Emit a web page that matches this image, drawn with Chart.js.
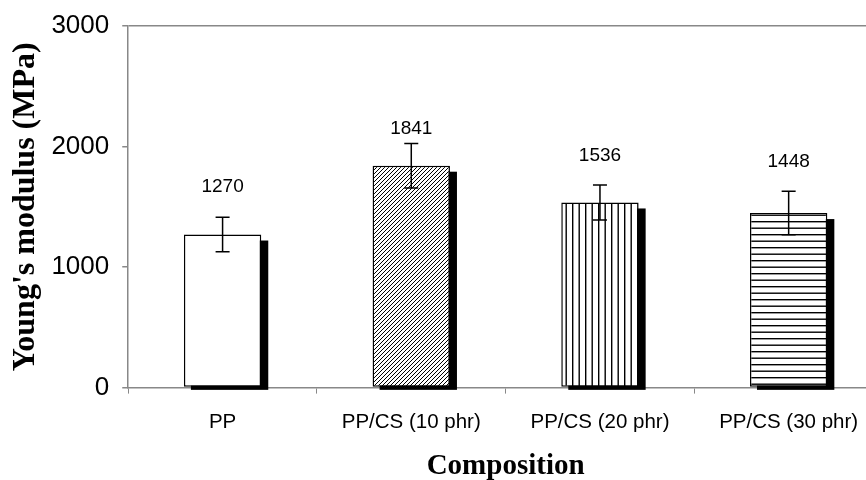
<!DOCTYPE html>
<html>
<head>
<meta charset="utf-8">
<script src="https://cdn.jsdelivr.net/npm/chart.js@4.4.1/dist/chart.umd.min.js"></script>
<style>
html, body { margin: 0; padding: 0; background: #fff; overflow: hidden; }
#wrap { width: 900px; height: 480px; }
</style>
</head>
<body>
<div id="wrap"><canvas id="chart" width="900" height="480"></canvas></div>
<script>
const categories = ['PP', 'PP/CS (10 phr)', 'PP/CS (20 phr)', 'PP/CS (30 phr)'];
const modulus = [1270, 1841, 1536, 1448];
const modulusErr = [143, 185, 145, 180];
const labelY = [1670, 2150, 1920, 1870];
const yTicks = [0, 1000, 2000, 3000];
const fills = ['plain', 'diag', 'vert', 'horiz'];

function makePattern(kind) {
    const c = document.createElement('canvas');
    const p = c.getContext('2d');
    if (kind === 'plain') return '#ffffff';
    if (kind === 'diag') {
        c.width = 4; c.height = 4;
        p.fillStyle = '#fff'; p.fillRect(0, 0, 4, 4);
        p.strokeStyle = '#000'; p.lineWidth = 1;
        p.beginPath();
        p.moveTo(-1, 5); p.lineTo(5, -1);
        p.moveTo(-3, 3); p.lineTo(3, -3);
        p.moveTo(1, 7); p.lineTo(7, 1);
        p.stroke();
    } else if (kind === 'vert') {
        c.width = 13; c.height = 4;
        p.fillStyle = '#fff'; p.fillRect(0, 0, 13, 4);
        p.fillStyle = '#000';
        p.fillRect(0, 0, 1.4, 4);
        p.fillRect(6.5, 0, 1.4, 4);
    } else {
        c.width = 4; c.height = 13;
        p.fillStyle = '#fff'; p.fillRect(0, 0, 4, 13);
        p.fillStyle = '#000';
        p.fillRect(0, 0, 4, 1.4);
        p.fillRect(0, 6.5, 4, 1.4);
    }
    return p.createPattern(c, 'repeat');
}

// sombra negra desplazada detras de cada barra
const shadowPlugin = {
    id: 'shadow',
    beforeDatasetsDraw(chart) {
        const ctx = chart.ctx;
        ctx.save();
        ctx.fillStyle = '#000';
        chart.getDatasetMeta(0).data.forEach(bar => {
            const { x, y, base, width } = bar.getProps(['x', 'y', 'base', 'width'], true);
            ctx.fillRect(x - width / 2 + 7, y + 6, width, base - y - 3);
        });
        ctx.restore();
    }
};

// barras de error y etiquetas de valor
const errorPlugin = {
    id: 'errors',
    afterDatasetsDraw(chart) {
        const ctx = chart.ctx;
        const ys = chart.scales.y;
        ctx.save();
        ctx.strokeStyle = '#000';
        ctx.lineWidth = 1.5;
        chart.getDatasetMeta(0).data.forEach((bar, i) => {
            const x = bar.x;
            const top = ys.getPixelForValue(modulus[i] + modulusErr[i]);
            const bot = ys.getPixelForValue(modulus[i] - modulusErr[i]);
            ctx.beginPath();
            ctx.moveTo(x, top); ctx.lineTo(x, bot);
            ctx.moveTo(x - 7, top); ctx.lineTo(x + 7, top);
            ctx.moveTo(x - 7, bot); ctx.lineTo(x + 7, bot);
            ctx.stroke();
            ctx.fillStyle = '#000';
            ctx.font = '19px "Liberation Sans"';
            ctx.textAlign = 'center';
            ctx.textBaseline = 'middle';
            ctx.fillText(String(modulus[i]), x, ys.getPixelForValue(labelY[i]));
        });
        ctx.restore();
    }
};

new Chart(document.getElementById('chart').getContext('2d'), {
    type: 'bar',
    data: {
        labels: categories,
        datasets: [{
            data: modulus,
            backgroundColor: fills.map(makePattern),
            borderColor: '#000',
            borderWidth: 1.5,
            borderSkipped: false,
            categoryPercentage: 1,
            barPercentage: 0.41
        }]
    },
    options: {
        responsive: false,
        animation: false,
        layout: { padding: { left: 7, top: 21, right: 17, bottom: -4 } },
        plugins: { legend: { display: false }, tooltip: { enabled: false } },
        scales: {
            x: {
                grid: { drawOnChartArea: false, offset: true, tickLength: 6, tickColor: '#888', color: '#888' },
                border: { color: '#888', width: 1.5 },
                ticks: { color: '#000', font: { family: 'Liberation Sans', size: 20.5 }, padding: 16 },
                title: {
                    display: true, text: 'Composition', color: '#000',
                    font: { family: 'Liberation Serif', size: 29, weight: 'bold' },
                    padding: { top: -1, bottom: 0 }
                }
            },
            y: {
                min: 0, max: 3000,
                afterBuildTicks: axis => { axis.ticks = yTicks.map(v => ({ value: v })); },
                grid: {
                    color: c => (c.tick && c.tick.value === 3000) ? '#888' : 'rgba(0,0,0,0)',
                    tickColor: '#888', tickLength: 6, lineWidth: 1.5
                },
                border: { color: '#888', width: 1.5 },
                ticks: {
                    color: '#000', font: { family: 'Liberation Sans', size: 26, lineHeight: 1 }, padding: 13,
                    callback: v => String(v)
                },
                title: {
                    display: true, text: "Young's modulus (MPa)", color: '#000',
                    font: { family: 'Liberation Serif', size: 32, weight: 'bold' },
                    padding: { top: 0, bottom: -7 }
                }
            }
        }
    },
    plugins: [shadowPlugin, errorPlugin]
});
</script>
</body>
</html>
